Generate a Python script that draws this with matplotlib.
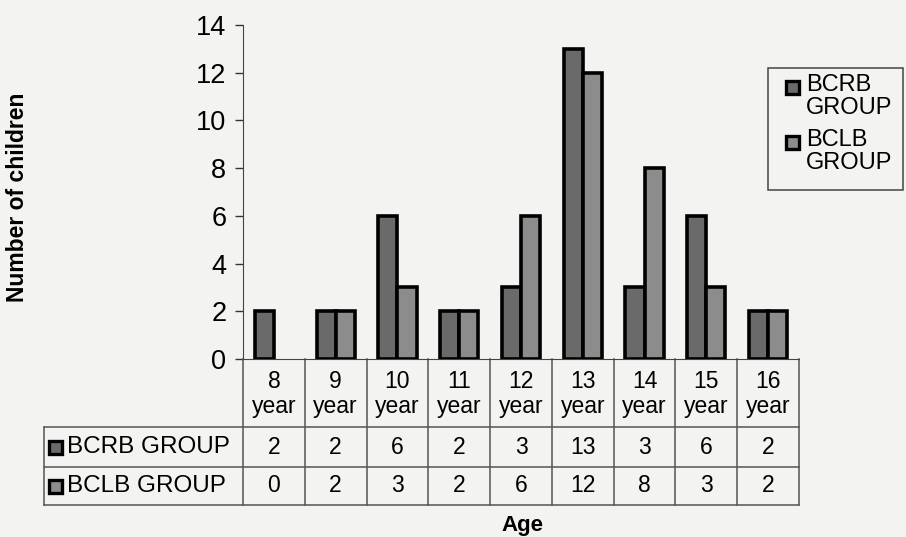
import numpy as np
import matplotlib.pyplot as plt
from matplotlib.patches import Rectangle
from matplotlib.lines import Line2D
from matplotlib.transforms import blended_transform_factory

plt.rcParams['font.family'] = ['Liberation Sans', 'DejaVu Sans']

ages = ["8", "9", "10", "11", "12", "13", "14", "15", "16"]
bcrb = [2, 2, 6, 2, 3, 13, 3, 6, 2]
bclb = [0, 2, 3, 2, 6, 12, 8, 3, 2]
series_names = ["BCRB GROUP", "BCLB GROUP"]
legend_names = ["BCRB\nGROUP", "BCLB\nGROUP"]
colors = ["#6a6a6a", "#8c8c8c"]

W, H = 906, 537
bg = "#f3f3f1"

def fx(p):
    return p / W

def fy(p):
    return 1 - p / H

fig = plt.figure(figsize=(W / 100, H / 100), dpi=100, facecolor=bg)
ax = fig.add_axes([fx(243), fy(359), fx(799) - fx(243), fy(25) - fy(359)])
ax.set_facecolor(bg)

x = np.arange(len(ages))
w = 0.31
# no outline on empty bars
lw1 = [2.6 if v > 0 else 0 for v in bcrb]
lw2 = [2.6 if v > 0 else 0 for v in bclb]
ax.bar(x - w / 2, bcrb, w, color=colors[0], edgecolor="black", linewidth=lw1, zorder=3)
ax.bar(x + w / 2, bclb, w, color=colors[1], edgecolor="black", linewidth=lw2, zorder=3)

ax.set_xlim(-0.5, len(ages) - 0.5)
ax.set_ylim(0, 14)
ax.set_yticks(range(0, 15, 2))
ax.tick_params(axis="y", labelsize=19.5, length=6, width=1, color="#333333", pad=6)
ax.tick_params(axis="x", bottom=False, labelbottom=False)
for s in ["top", "right"]:
    ax.spines[s].set_visible(False)
ax.spines["left"].set_color("#444444")
ax.spines["bottom"].set_color("#444444")

# data table under the axis
tr = blended_transform_factory(ax.transData, fig.transFigure)
lc = "#555555"
rows_y = [359, 427, 467, 505]
xe = np.arange(len(ages) + 1) - 0.5
for xb in xe:
    ax.add_line(Line2D([xb, xb], [fy(359), fy(505)], transform=tr, color=lc, lw=1.1, clip_on=False))
for yy in rows_y[1:]:
    fig.add_artist(Line2D([fx(44), fx(799)], [fy(yy), fy(yy)], color=lc, lw=1.1))
fig.add_artist(Line2D([fx(44), fx(44)], [fy(427), fy(505)], color=lc, lw=1.1))

for i, a in enumerate(ages):
    ax.text(i, fy(394), a + "\nyear", transform=tr, ha="center", va="center",
            fontsize=16.5, linespacing=1.15)
    ax.text(i, fy(447), str(bcrb[i]), transform=tr, ha="center", va="center", fontsize=16.5)
    ax.text(i, fy(486), str(bclb[i]), transform=tr, ha="center", va="center", fontsize=16.5)

for name, col, yc in zip(series_names, colors, [447, 486]):
    fig.add_artist(Rectangle((fx(49), fy(yc + 7)), fx(13), 13 / H, facecolor=col,
                             edgecolor="black", lw=2.4))
    fig.text(fx(67), fy(yc), name, ha="left", va="center", fontsize=17.5)

# legend
fig.add_artist(Rectangle((fx(768), fy(190)), fx(135), 122 / H, facecolor=bg,
                         edgecolor="#444444", lw=1.1))
for name, col, ytop in zip(legend_names, colors, [74, 129]):
    fig.add_artist(Rectangle((fx(786), fy(ytop + 20)), fx(13), 13 / H, facecolor=col,
                             edgecolor="black", lw=2.4))
    fig.text(fx(806), fy(ytop), name, ha="left", va="top", fontsize=17, linespacing=1.05)

fig.text(fx(18), fy(197), "Number of children", rotation=90, ha="center", va="center",
         fontsize=16.5, fontweight="bold")
fig.text(fx(522), fy(525), "Age", ha="center", va="center", fontsize=16, fontweight="bold")

fig.savefig("out.png", dpi=100, facecolor=bg)
